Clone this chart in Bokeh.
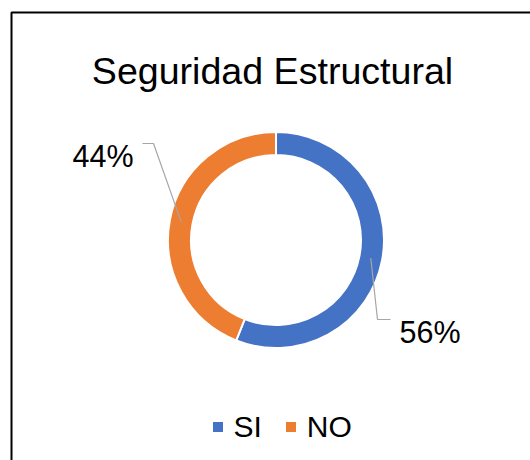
import numpy as np
from bokeh.plotting import figure
from bokeh.models import Range1d, ColumnDataSource, Legend, LegendItem
from bokeh.core.properties import value
from bokeh.embed import file_html
from bokeh.resources import INLINE

# ---- data ----
title_text = "Seguridad Estructural"
categories = ["SI", "NO"]
percents = [56, 44]
colors = ["#4472C4", "#ED7D31"]

FONT = "Liberation Sans"
W, H = 530, 460

p = figure(width=W, height=H, output_backend="svg", toolbar_location=None,
           x_range=Range1d(0, W), y_range=Range1d(-H, 0),
           min_border=0, outline_line_color=None)
p.axis.visible = False
p.grid.visible = False
p.background_fill_color = "white"

# chart border (only top & left visible in the crop)
p.line(x=[11, 11, 700], y=[-700, -12, -12], line_color="black", line_width=2)

# donut geometry
cx, cy = 275.5, -239.5
r_in, r_out = 85, 108
vals = np.array(percents, dtype=float)
frac = vals / vals.sum()
ends = np.pi / 2 - 2 * np.pi * np.cumsum(frac)
starts = np.concatenate([[np.pi / 2], ends[:-1]])

src = ColumnDataSource(dict(x=[cx] * len(vals), y=[cy] * len(vals),
                            start=starts, end=ends, color=colors, cat=categories))
r = p.annular_wedge(x="x", y="y", inner_radius=r_in, outer_radius=r_out,
                    start_angle="start", end_angle="end", direction="clock",
                    fill_color="color", line_color="white", line_width=2,
                    source=src)

# leader lines & data labels
mid = (starts + ends) / 2
r_mid = (r_in + r_out) / 2
label_cfg = {
    "SI": dict(elbow=(377, -319), end=(390, -319), tx=399, ty=-331, align="left"),
    "NO": dict(elbow=(153, -143), end=(142, -143), tx=133, ty=-155, align="right"),
}
for i, c in enumerate(categories):
    cfg = label_cfg[c]
    px = cx + r_mid * np.cos(mid[i])
    py = cy + r_mid * np.sin(mid[i])
    p.line(x=[px, cfg["elbow"][0], cfg["end"][0]],
           y=[py, cfg["elbow"][1], cfg["end"][1]],
           line_color="#A6A6A6", line_width=1.2)
    p.text(x=[cfg["tx"]], y=[cfg["ty"]], text=[f"{percents[i]}%"],
           text_font=value(FONT), text_font_size="30.5px", text_color="black",
           text_align=cfg["align"], text_baseline="alphabetic")

# title
p.text(x=[272], y=[-70], text=[title_text], text_font=value(FONT),
       text_font_size="37.6px", text_color="black", text_align="center",
       text_baseline="alphabetic")

# legend
legend = Legend(items=[LegendItem(label=c, renderers=[r], index=i)
                       for i, c in enumerate(categories)],
                orientation="horizontal", location=(209.5, 16.5),
                glyph_width=15, glyph_height=15, label_standoff=9,
                spacing=21, padding=0, margin=0,
                border_line_color=None, background_fill_alpha=0,
                label_text_font=FONT, label_text_font_size="30px",
                label_text_color="black")
p.add_layout(legend)

open("out.html", "w").write(file_html(p, INLINE))
